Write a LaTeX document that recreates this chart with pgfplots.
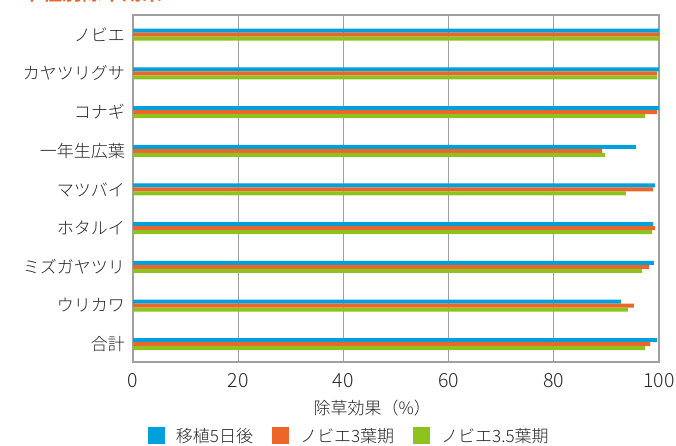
\documentclass[border=0pt]{standalone}
\usepackage{fontspec}
\setmainfont{Noto Sans CJK JP}[UprightFont=* Light, BoldFont=* Bold]
\usepackage{pgfplots}
\pgfplotsset{compat=1.18}
\definecolor{cblue}{RGB}{0,160,220}
\definecolor{corange}{RGB}{236,102,42}
\definecolor{cgreen}{RGB}{142,195,31}
\definecolor{gridc}{RGB}{160,160,160}
\begin{document}
\begin{tikzpicture}
\useasboundingbox (0,0) rectangle (676pt,445pt);
\clip (0,0) rectangle (676pt,445pt);
\node[anchor=base west, text=corange, font=\bfseries\fontsize{20}{20}\selectfont, inner sep=0pt] at (22pt,444.5pt) {草種別除草効果};
\begin{axis}[
  at={(133pt,83pt)}, anchor=south west,
  scale only axis, width=526pt, height=347pt,
  xbar, bar width=4pt,
  xmin=0, xmax=100, xtick={0,20,40,60,80,100},
  y dir=reverse, ymin=-0.51, ymax=8.46,
  ytick={0,1,2,3,4,5,6,7,8},
  yticklabels={ノビエ,カヤツリグサ,コナギ,一年生広葉,マツバイ,ホタルイ,ミズガヤツリ,ウリカワ,合計},
  major tick length=0pt,
  xmajorgrids, grid style={gridc, line width=1.2pt},
  axis line style={gridc, line width=1.4pt},
  /pgf/number format/assume math mode=true,
  tick label style={font=\fontsize{17}{17}\selectfont, text=black!85},
  xticklabel style={font=\fontsize{19.5}{19.5}\selectfont, anchor=north, inner sep=0pt, yshift=-11pt},
  yticklabel style={anchor=east, inner sep=0pt, xshift=-8pt},
  xlabel={除草効果（\%）},
  xlabel style={at={(axis description cs:0.455,-0.133)}, anchor=center, font=\fontsize{17}{17}\selectfont, text=black!85},
  legend columns=3,
  legend style={draw=none, fill=none, inner sep=0pt, outer sep=0pt,
    at={(axis description cs:0.0285,-0.213)}, anchor=west,
    font=\fontsize{17}{17}\selectfont, text=black!85,
    nodes={inner sep=0pt},
    /tikz/every odd column/.append style={column sep=11pt},
    /tikz/every even column/.append style={column sep=19pt}},
  legend image code/.code={\fill[#1] (0pt,-8.5pt) rectangle (17pt,8.5pt);},
]
\addplot[fill=cblue, draw=none, bar shift=4pt] coordinates {
(100,0) (100,1) (100,2) (95.6,3) (99.2,4) (98.9,5) (99.0,6) (92.8,7) (99.6,8)};
\addplot[fill=corange, draw=none, bar shift=0pt] coordinates {
(100,0) (99.6,1) (99.6,2) (89.2,3) (98.9,4) (99.2,5) (98.1,6) (95.2,7) (98.3,8)};
\addplot[fill=cgreen, draw=none, bar shift=-4pt] coordinates {
(100,0) (99.6,1) (97.3,2) (89.7,3) (93.7,4) (98.7,5) (96.8,6) (94.1,7) (97.3,8)};
\legend{移植5日後,ノビエ3葉期,ノビエ3.5葉期}
\end{axis}
\end{tikzpicture}
\end{document}
